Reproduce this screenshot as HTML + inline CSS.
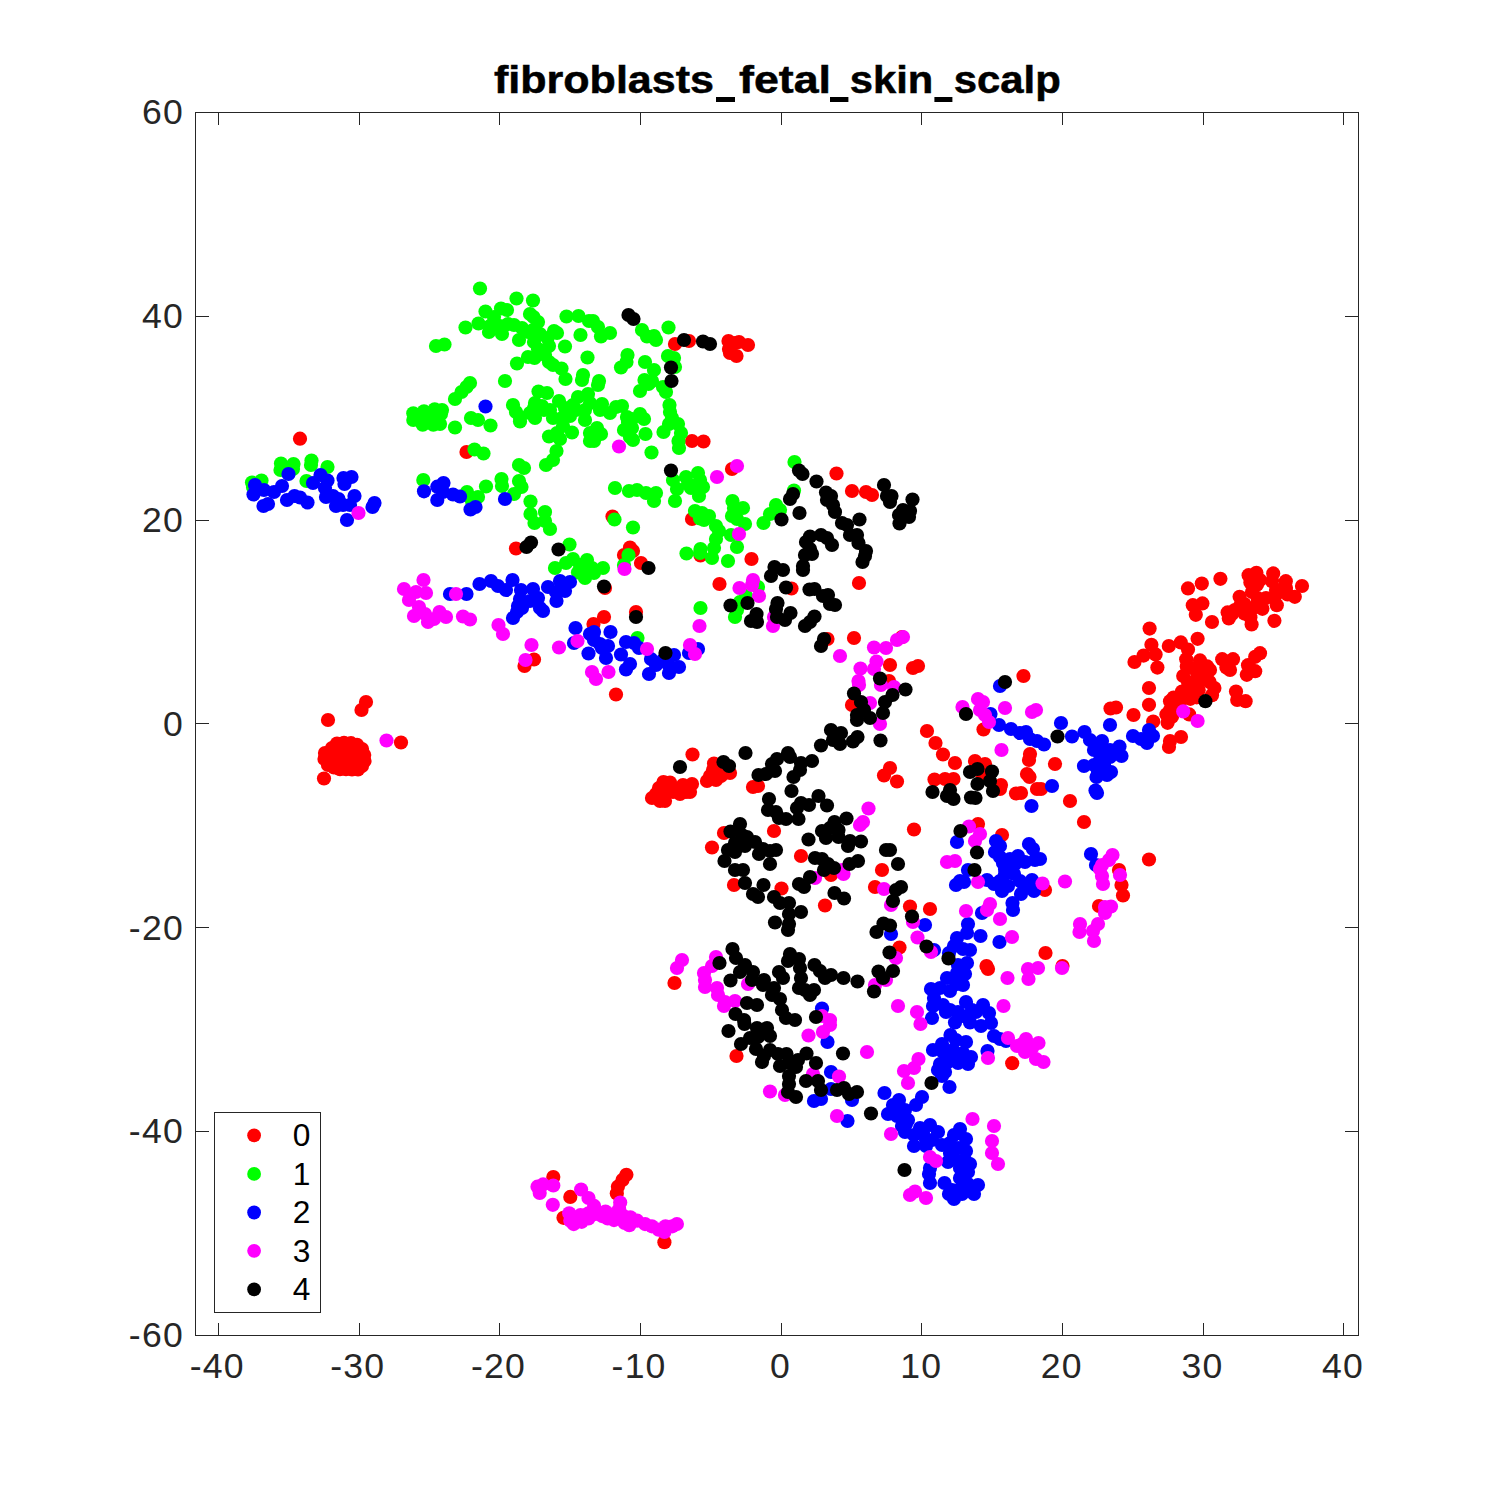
<!DOCTYPE html>
<html><head><meta charset="utf-8"><title>fibroblasts_fetal_skin_scalp</title>
<style>
html,body{margin:0;padding:0;background:#fff;}
body{width:1500px;height:1500px;overflow:hidden;}
svg{display:block;}
text{font-family:"Liberation Sans",sans-serif;}
.tk{font-size:35.6px;fill:#262626;letter-spacing:1.2px;}
.lg{font-size:31.7px;fill:#000;}
.tt{font-size:38px;font-weight:bold;fill:#000;stroke:#000;stroke-width:0.5px;}
</style></head><body>
<svg width="1500" height="1500" viewBox="0 0 1500 1500">
<rect width="1500" height="1500" fill="#fff"/>
<rect x="195.5" y="112.5" width="1163.0" height="1223.0" fill="none" stroke="#262626" stroke-width="1" shape-rendering="crispEdges"/>
<path d="M218.5 1335.5V1323.0 M218.5 112.5V125.0 M359.5 1335.5V1323.0 M359.5 112.5V125.0 M499.5 1335.5V1323.0 M499.5 112.5V125.0 M640.5 1335.5V1323.0 M640.5 112.5V125.0 M781.5 1335.5V1323.0 M781.5 112.5V125.0 M921.5 1335.5V1323.0 M921.5 112.5V125.0 M1062.5 1335.5V1323.0 M1062.5 112.5V125.0 M1203.5 1335.5V1323.0 M1203.5 112.5V125.0 M1343.5 1335.5V1323.0 M1343.5 112.5V125.0 M195.5 1335.5H209.0 M1358.5 1335.5H1345.0 M195.5 1131.5H209.0 M1358.5 1131.5H1345.0 M195.5 927.5H209.0 M1358.5 927.5H1345.0 M195.5 723.5H209.0 M1358.5 723.5H1345.0 M195.5 520.5H209.0 M1358.5 520.5H1345.0 M195.5 316.5H209.0 M1358.5 316.5H1345.0 M195.5 112.5H209.0 M1358.5 112.5H1345.0" stroke="#262626" stroke-width="1" fill="none" shape-rendering="crispEdges"/>
<g fill="#ff0000"><circle cx="300.0" cy="438.7" r="7.1"/><circle cx="675.0" cy="344.0" r="7.1"/><circle cx="689.0" cy="341.0" r="7.1"/><circle cx="728.5" cy="341.0" r="7.1"/><circle cx="735.0" cy="343.0" r="7.1"/><circle cx="729.0" cy="349.0" r="7.1"/><circle cx="730.0" cy="353.0" r="7.1"/><circle cx="736.5" cy="356.0" r="7.1"/><circle cx="739.0" cy="342.0" r="7.1"/><circle cx="748.0" cy="345.0" r="7.1"/><circle cx="466.5" cy="452.0" r="7.1"/><circle cx="516.0" cy="548.5" r="7.1"/><circle cx="692.0" cy="441.0" r="7.1"/><circle cx="703.5" cy="441.5" r="7.1"/><circle cx="732.0" cy="469.0" r="7.1"/><circle cx="612.5" cy="516.5" r="7.1"/><circle cx="692.0" cy="519.0" r="7.1"/><circle cx="630.0" cy="547.5" r="7.1"/><circle cx="633.0" cy="551.0" r="7.1"/><circle cx="624.0" cy="555.0" r="7.1"/><circle cx="641.0" cy="563.0" r="7.1"/><circle cx="700.5" cy="555.5" r="7.1"/><circle cx="836.5" cy="473.5" r="7.1"/><circle cx="852.0" cy="491.0" r="7.1"/><circle cx="866.0" cy="492.0" r="7.1"/><circle cx="872.0" cy="495.0" r="7.1"/><circle cx="751.5" cy="559.0" r="7.1"/><circle cx="534.0" cy="659.5" r="7.1"/><circle cx="524.5" cy="666.0" r="7.1"/><circle cx="605.0" cy="588.0" r="7.1"/><circle cx="636.0" cy="612.0" r="7.1"/><circle cx="604.0" cy="617.0" r="7.1"/><circle cx="593.5" cy="624.0" r="7.1"/><circle cx="616.0" cy="694.5" r="7.1"/><circle cx="719.5" cy="584.0" r="7.1"/><circle cx="791.5" cy="588.5" r="7.1"/><circle cx="827.5" cy="639.0" r="7.1"/><circle cx="859.0" cy="583.0" r="7.1"/><circle cx="854.0" cy="638.0" r="7.1"/><circle cx="902.0" cy="637.0" r="7.1"/><circle cx="890.0" cy="665.0" r="7.1"/><circle cx="913.0" cy="668.0" r="7.1"/><circle cx="918.0" cy="666.0" r="7.1"/><circle cx="889.0" cy="681.0" r="7.1"/><circle cx="852.0" cy="705.0" r="7.1"/><circle cx="1023.5" cy="676.0" r="7.1"/><circle cx="1134.5" cy="662.0" r="7.1"/><circle cx="1110.5" cy="708.5" r="7.1"/><circle cx="1116.0" cy="707.5" r="7.1"/><circle cx="1133.5" cy="715.0" r="7.1"/><circle cx="1220.4" cy="578.8" r="7.1"/><circle cx="1188.0" cy="588.4" r="7.1"/><circle cx="1201.8" cy="583.6" r="7.1"/><circle cx="1192.8" cy="605.2" r="7.1"/><circle cx="1202.4" cy="603.4" r="7.1"/><circle cx="1195.8" cy="614.8" r="7.1"/><circle cx="1212.0" cy="622.0" r="7.1"/><circle cx="1149.6" cy="628.6" r="7.1"/><circle cx="1197.6" cy="638.8" r="7.1"/><circle cx="1151.4" cy="644.8" r="7.1"/><circle cx="1168.8" cy="646.0" r="7.1"/><circle cx="1180.8" cy="642.4" r="7.1"/><circle cx="1155.6" cy="654.4" r="7.1"/><circle cx="1143.6" cy="655.6" r="7.1"/><circle cx="1188.0" cy="649.6" r="7.1"/><circle cx="1186.2" cy="659.2" r="7.1"/><circle cx="1157.4" cy="667.6" r="7.1"/><circle cx="1186.8" cy="666.4" r="7.1"/><circle cx="1183.2" cy="676.0" r="7.1"/><circle cx="1200.0" cy="660.4" r="7.1"/><circle cx="1207.2" cy="666.4" r="7.1"/><circle cx="1197.6" cy="674.8" r="7.1"/><circle cx="1206.6" cy="676.0" r="7.1"/><circle cx="1209.6" cy="682.0" r="7.1"/><circle cx="1214.4" cy="688.0" r="7.1"/><circle cx="1212.0" cy="695.2" r="7.1"/><circle cx="1188.0" cy="682.0" r="7.1"/><circle cx="1191.6" cy="690.4" r="7.1"/><circle cx="1182.0" cy="691.6" r="7.1"/><circle cx="1173.6" cy="697.6" r="7.1"/><circle cx="1170.0" cy="701.2" r="7.1"/><circle cx="1190.4" cy="698.8" r="7.1"/><circle cx="1149.0" cy="688.0" r="7.1"/><circle cx="1149.0" cy="704.8" r="7.1"/><circle cx="1166.4" cy="714.4" r="7.1"/><circle cx="1167.6" cy="722.8" r="7.1"/><circle cx="1153.2" cy="721.6" r="7.1"/><circle cx="1189.2" cy="714.4" r="7.1"/><circle cx="1222.2" cy="659.2" r="7.1"/><circle cx="1233.0" cy="659.2" r="7.1"/><circle cx="1226.4" cy="667.6" r="7.1"/><circle cx="1230.0" cy="670.0" r="7.1"/><circle cx="1260.0" cy="653.2" r="7.1"/><circle cx="1255.2" cy="656.8" r="7.1"/><circle cx="1248.0" cy="665.2" r="7.1"/><circle cx="1255.2" cy="671.2" r="7.1"/><circle cx="1246.8" cy="674.8" r="7.1"/><circle cx="1236.0" cy="691.6" r="7.1"/><circle cx="1237.2" cy="700.0" r="7.1"/><circle cx="1245.6" cy="701.2" r="7.1"/><circle cx="1274.4" cy="620.8" r="7.1"/><circle cx="1251.6" cy="624.4" r="7.1"/><circle cx="1250.4" cy="617.2" r="7.1"/><circle cx="1227.6" cy="612.4" r="7.1"/><circle cx="1228.8" cy="618.4" r="7.1"/><circle cx="1234.8" cy="610.0" r="7.1"/><circle cx="1239.6" cy="596.8" r="7.1"/><circle cx="1244.4" cy="604.0" r="7.1"/><circle cx="1250.4" cy="582.4" r="7.1"/><circle cx="1248.6" cy="575.2" r="7.1"/><circle cx="1256.4" cy="572.8" r="7.1"/><circle cx="1257.0" cy="584.8" r="7.1"/><circle cx="1273.2" cy="573.4" r="7.1"/><circle cx="1272.0" cy="581.2" r="7.1"/><circle cx="1285.8" cy="581.2" r="7.1"/><circle cx="1281.6" cy="589.6" r="7.1"/><circle cx="1302.0" cy="586.0" r="7.1"/><circle cx="1294.8" cy="596.8" r="7.1"/><circle cx="1287.6" cy="594.4" r="7.1"/><circle cx="1275.6" cy="595.6" r="7.1"/><circle cx="1266.0" cy="598.0" r="7.1"/><circle cx="1257.6" cy="598.0" r="7.1"/><circle cx="1254.0" cy="607.6" r="7.1"/><circle cx="1262.4" cy="608.8" r="7.1"/><circle cx="1276.8" cy="605.2" r="7.1"/><circle cx="1244.4" cy="613.6" r="7.1"/><circle cx="328.0" cy="720.0" r="7.1"/><circle cx="366.0" cy="702.0" r="7.1"/><circle cx="361.5" cy="710.0" r="7.1"/><circle cx="401.0" cy="742.5" r="7.1"/><circle cx="324.0" cy="778.5" r="7.1"/><circle cx="325.0" cy="753.0" r="7.1"/><circle cx="324.5" cy="759.0" r="7.1"/><circle cx="328.0" cy="765.0" r="7.1"/><circle cx="332.0" cy="748.0" r="7.1"/><circle cx="337.0" cy="743.5" r="7.1"/><circle cx="344.0" cy="742.8" r="7.1"/><circle cx="351.0" cy="743.2" r="7.1"/><circle cx="357.0" cy="744.8" r="7.1"/><circle cx="362.0" cy="749.0" r="7.1"/><circle cx="364.2" cy="755.0" r="7.1"/><circle cx="364.5" cy="761.0" r="7.1"/><circle cx="362.0" cy="766.0" r="7.1"/><circle cx="358.0" cy="769.5" r="7.1"/><circle cx="352.0" cy="769.5" r="7.1"/><circle cx="346.0" cy="769.2" r="7.1"/><circle cx="340.0" cy="769.2" r="7.1"/><circle cx="334.0" cy="767.5" r="7.1"/><circle cx="330.0" cy="760.0" r="7.1"/><circle cx="335.0" cy="755.0" r="7.1"/><circle cx="342.0" cy="752.0" r="7.1"/><circle cx="349.0" cy="752.0" r="7.1"/><circle cx="356.0" cy="755.0" r="7.1"/><circle cx="350.0" cy="760.0" r="7.1"/><circle cx="343.0" cy="762.0" r="7.1"/><circle cx="337.0" cy="762.0" r="7.1"/><circle cx="355.0" cy="763.0" r="7.1"/><circle cx="692.5" cy="754.5" r="7.1"/><circle cx="712.0" cy="847.5" r="7.1"/><circle cx="724.0" cy="833.0" r="7.1"/><circle cx="652.0" cy="798.0" r="7.1"/><circle cx="656.0" cy="794.0" r="7.1"/><circle cx="660.0" cy="801.0" r="7.1"/><circle cx="665.0" cy="801.0" r="7.1"/><circle cx="659.0" cy="788.0" r="7.1"/><circle cx="663.5" cy="782.0" r="7.1"/><circle cx="670.0" cy="782.5" r="7.1"/><circle cx="668.0" cy="790.0" r="7.1"/><circle cx="673.0" cy="792.0" r="7.1"/><circle cx="678.0" cy="790.0" r="7.1"/><circle cx="683.0" cy="785.0" r="7.1"/><circle cx="686.0" cy="792.0" r="7.1"/><circle cx="690.0" cy="792.0" r="7.1"/><circle cx="692.0" cy="784.0" r="7.1"/><circle cx="680.0" cy="794.0" r="7.1"/><circle cx="714.0" cy="763.5" r="7.1"/><circle cx="713.0" cy="770.0" r="7.1"/><circle cx="707.0" cy="781.0" r="7.1"/><circle cx="710.0" cy="776.0" r="7.1"/><circle cx="716.0" cy="780.0" r="7.1"/><circle cx="721.0" cy="776.0" r="7.1"/><circle cx="722.0" cy="770.0" r="7.1"/><circle cx="730.0" cy="773.0" r="7.1"/><circle cx="717.0" cy="772.0" r="7.1"/><circle cx="753.0" cy="787.0" r="7.1"/><circle cx="758.0" cy="786.0" r="7.1"/><circle cx="774.0" cy="831.0" r="7.1"/><circle cx="801.0" cy="856.0" r="7.1"/><circle cx="884.0" cy="775.5" r="7.1"/><circle cx="890.0" cy="768.0" r="7.1"/><circle cx="882.0" cy="870.0" r="7.1"/><circle cx="927.0" cy="731.0" r="7.1"/><circle cx="935.5" cy="743.0" r="7.1"/><circle cx="943.0" cy="754.5" r="7.1"/><circle cx="955.0" cy="763.0" r="7.1"/><circle cx="975.0" cy="761.0" r="7.1"/><circle cx="985.0" cy="764.0" r="7.1"/><circle cx="982.5" cy="776.0" r="7.1"/><circle cx="983.5" cy="729.5" r="7.1"/><circle cx="934.5" cy="779.5" r="7.1"/><circle cx="945.0" cy="779.0" r="7.1"/><circle cx="953.5" cy="779.0" r="7.1"/><circle cx="897.0" cy="781.5" r="7.1"/><circle cx="1001.0" cy="785.0" r="7.1"/><circle cx="1000.0" cy="789.0" r="7.1"/><circle cx="1030.0" cy="754.0" r="7.1"/><circle cx="1029.0" cy="760.0" r="7.1"/><circle cx="1027.0" cy="774.0" r="7.1"/><circle cx="1029.5" cy="777.0" r="7.1"/><circle cx="1016.0" cy="793.5" r="7.1"/><circle cx="1021.0" cy="793.0" r="7.1"/><circle cx="1037.0" cy="789.0" r="7.1"/><circle cx="914.0" cy="829.5" r="7.1"/><circle cx="978.0" cy="824.0" r="7.1"/><circle cx="1002.0" cy="835.0" r="7.1"/><circle cx="1055.0" cy="764.0" r="7.1"/><circle cx="1041.0" cy="789.0" r="7.1"/><circle cx="1070.0" cy="801.0" r="7.1"/><circle cx="1084.0" cy="822.0" r="7.1"/><circle cx="1149.0" cy="859.5" r="7.1"/><circle cx="1170.0" cy="741.0" r="7.1"/><circle cx="1169.0" cy="747.0" r="7.1"/><circle cx="1181.0" cy="737.0" r="7.1"/><circle cx="1119.0" cy="870.0" r="7.1"/><circle cx="734.0" cy="885.0" r="7.1"/><circle cx="781.5" cy="888.5" r="7.1"/><circle cx="674.5" cy="983.0" r="7.1"/><circle cx="831.0" cy="875.0" r="7.1"/><circle cx="875.0" cy="887.0" r="7.1"/><circle cx="825.0" cy="905.5" r="7.1"/><circle cx="910.0" cy="906.5" r="7.1"/><circle cx="930.0" cy="909.0" r="7.1"/><circle cx="899.5" cy="947.5" r="7.1"/><circle cx="1045.0" cy="890.0" r="7.1"/><circle cx="1099.0" cy="906.0" r="7.1"/><circle cx="1045.5" cy="953.0" r="7.1"/><circle cx="986.5" cy="966.0" r="7.1"/><circle cx="988.0" cy="969.0" r="7.1"/><circle cx="1062.5" cy="966.0" r="7.1"/><circle cx="1121.5" cy="885.0" r="7.1"/><circle cx="1123.0" cy="895.5" r="7.1"/><circle cx="736.5" cy="1056.0" r="7.1"/><circle cx="1012.2" cy="1063.2" r="7.1"/><circle cx="553.3" cy="1177.0" r="7.1"/><circle cx="570.3" cy="1196.9" r="7.1"/><circle cx="626.4" cy="1174.8" r="7.1"/><circle cx="622.5" cy="1179.9" r="7.1"/><circle cx="617.9" cy="1186.7" r="7.1"/><circle cx="616.8" cy="1193.5" r="7.1"/><circle cx="563.5" cy="1217.8" r="7.1"/><circle cx="664.4" cy="1242.2" r="7.1"/><circle cx="1198.7" cy="669.3" r="7.1"/><circle cx="1198.7" cy="690.0" r="7.1"/><circle cx="1196.7" cy="697.3" r="7.1"/><circle cx="1180.0" cy="702.0" r="7.1"/><circle cx="1174.7" cy="707.3" r="7.1"/><circle cx="1172.0" cy="716.7" r="7.1"/><circle cx="1194.7" cy="682.7" r="7.1"/><circle cx="1260.0" cy="580.0" r="7.1"/><circle cx="1252.0" cy="592.0" r="7.1"/><circle cx="1240.0" cy="606.0" r="7.1"/><circle cx="1276.0" cy="590.0" r="7.1"/><circle cx="1286.0" cy="588.0" r="7.1"/><circle cx="1232.0" cy="614.0" r="7.1"/><circle cx="1192.0" cy="668.0" r="7.1"/><circle cx="1180.0" cy="696.0" r="7.1"/><circle cx="1200.0" cy="680.0" r="7.1"/><circle cx="1170.0" cy="710.0" r="7.1"/><circle cx="1210.0" cy="670.0" r="7.1"/></g>
<g fill="#00ff00"><circle cx="423.3" cy="480.0" r="7.1"/><circle cx="413.3" cy="413.3" r="7.1"/><circle cx="424.0" cy="411.3" r="7.1"/><circle cx="434.7" cy="409.3" r="7.1"/><circle cx="413.3" cy="420.0" r="7.1"/><circle cx="422.7" cy="424.7" r="7.1"/><circle cx="433.3" cy="424.7" r="7.1"/><circle cx="281.0" cy="463.5" r="7.1"/><circle cx="293.5" cy="464.0" r="7.1"/><circle cx="280.5" cy="470.0" r="7.1"/><circle cx="293.0" cy="469.0" r="7.1"/><circle cx="311.5" cy="460.5" r="7.1"/><circle cx="311.0" cy="465.0" r="7.1"/><circle cx="327.5" cy="467.0" r="7.1"/><circle cx="252.0" cy="482.5" r="7.1"/><circle cx="261.5" cy="480.5" r="7.1"/><circle cx="253.0" cy="487.0" r="7.1"/><circle cx="306.5" cy="481.0" r="7.1"/><circle cx="480.0" cy="288.5" r="7.1"/><circle cx="516.5" cy="298.5" r="7.1"/><circle cx="533.0" cy="300.5" r="7.1"/><circle cx="485.5" cy="311.5" r="7.1"/><circle cx="501.0" cy="308.5" r="7.1"/><circle cx="507.0" cy="310.0" r="7.1"/><circle cx="465.5" cy="327.5" r="7.1"/><circle cx="478.5" cy="323.5" r="7.1"/><circle cx="489.0" cy="332.0" r="7.1"/><circle cx="490.0" cy="326.0" r="7.1"/><circle cx="502.0" cy="334.0" r="7.1"/><circle cx="500.0" cy="326.0" r="7.1"/><circle cx="508.0" cy="324.0" r="7.1"/><circle cx="514.0" cy="325.0" r="7.1"/><circle cx="519.0" cy="340.0" r="7.1"/><circle cx="522.0" cy="328.0" r="7.1"/><circle cx="530.0" cy="314.0" r="7.1"/><circle cx="533.5" cy="317.0" r="7.1"/><circle cx="538.0" cy="322.0" r="7.1"/><circle cx="533.0" cy="330.0" r="7.1"/><circle cx="534.0" cy="342.0" r="7.1"/><circle cx="554.0" cy="331.0" r="7.1"/><circle cx="557.0" cy="333.0" r="7.1"/><circle cx="547.5" cy="338.0" r="7.1"/><circle cx="549.0" cy="346.0" r="7.1"/><circle cx="566.5" cy="316.5" r="7.1"/><circle cx="578.5" cy="316.0" r="7.1"/><circle cx="589.0" cy="321.0" r="7.1"/><circle cx="580.5" cy="335.0" r="7.1"/><circle cx="565.0" cy="346.5" r="7.1"/><circle cx="587.5" cy="357.5" r="7.1"/><circle cx="444.5" cy="344.5" r="7.1"/><circle cx="436.0" cy="346.0" r="7.1"/><circle cx="517.0" cy="363.5" r="7.1"/><circle cx="528.0" cy="357.0" r="7.1"/><circle cx="534.5" cy="358.0" r="7.1"/><circle cx="545.0" cy="355.0" r="7.1"/><circle cx="549.0" cy="362.0" r="7.1"/><circle cx="553.0" cy="365.0" r="7.1"/><circle cx="561.5" cy="368.5" r="7.1"/><circle cx="565.5" cy="379.0" r="7.1"/><circle cx="583.0" cy="375.0" r="7.1"/><circle cx="582.0" cy="380.0" r="7.1"/><circle cx="505.0" cy="381.0" r="7.1"/><circle cx="470.0" cy="383.0" r="7.1"/><circle cx="466.5" cy="387.0" r="7.1"/><circle cx="461.5" cy="392.0" r="7.1"/><circle cx="455.0" cy="399.0" r="7.1"/><circle cx="442.0" cy="410.0" r="7.1"/><circle cx="471.0" cy="418.0" r="7.1"/><circle cx="478.0" cy="420.0" r="7.1"/><circle cx="513.0" cy="405.0" r="7.1"/><circle cx="516.0" cy="412.0" r="7.1"/><circle cx="520.0" cy="417.0" r="7.1"/><circle cx="538.5" cy="391.5" r="7.1"/><circle cx="547.0" cy="393.0" r="7.1"/><circle cx="535.0" cy="403.0" r="7.1"/><circle cx="542.0" cy="406.0" r="7.1"/><circle cx="550.0" cy="410.0" r="7.1"/><circle cx="559.0" cy="401.0" r="7.1"/><circle cx="565.0" cy="408.0" r="7.1"/><circle cx="578.0" cy="397.0" r="7.1"/><circle cx="573.0" cy="405.0" r="7.1"/><circle cx="588.0" cy="394.0" r="7.1"/><circle cx="585.0" cy="410.0" r="7.1"/><circle cx="530.0" cy="413.0" r="7.1"/><circle cx="535.0" cy="418.0" r="7.1"/><circle cx="553.0" cy="418.0" r="7.1"/><circle cx="570.0" cy="416.0" r="7.1"/><circle cx="593.0" cy="321.0" r="7.1"/><circle cx="598.0" cy="327.0" r="7.1"/><circle cx="610.0" cy="333.0" r="7.1"/><circle cx="601.0" cy="336.5" r="7.1"/><circle cx="642.0" cy="330.0" r="7.1"/><circle cx="647.0" cy="336.5" r="7.1"/><circle cx="654.0" cy="336.0" r="7.1"/><circle cx="656.0" cy="340.0" r="7.1"/><circle cx="668.5" cy="327.5" r="7.1"/><circle cx="668.0" cy="356.0" r="7.1"/><circle cx="674.0" cy="358.0" r="7.1"/><circle cx="675.0" cy="367.0" r="7.1"/><circle cx="627.5" cy="355.0" r="7.1"/><circle cx="626.5" cy="362.0" r="7.1"/><circle cx="621.0" cy="367.5" r="7.1"/><circle cx="645.0" cy="362.0" r="7.1"/><circle cx="654.0" cy="370.0" r="7.1"/><circle cx="644.5" cy="380.0" r="7.1"/><circle cx="652.0" cy="381.0" r="7.1"/><circle cx="648.5" cy="384.0" r="7.1"/><circle cx="640.0" cy="391.0" r="7.1"/><circle cx="599.0" cy="381.0" r="7.1"/><circle cx="598.0" cy="385.0" r="7.1"/><circle cx="602.0" cy="404.0" r="7.1"/><circle cx="600.0" cy="410.0" r="7.1"/><circle cx="616.0" cy="407.0" r="7.1"/><circle cx="622.0" cy="406.0" r="7.1"/><circle cx="610.0" cy="413.0" r="7.1"/><circle cx="627.0" cy="417.0" r="7.1"/><circle cx="640.0" cy="414.0" r="7.1"/><circle cx="644.0" cy="419.0" r="7.1"/><circle cx="663.0" cy="387.0" r="7.1"/><circle cx="666.0" cy="392.0" r="7.1"/><circle cx="669.5" cy="405.0" r="7.1"/><circle cx="670.0" cy="412.0" r="7.1"/><circle cx="672.0" cy="418.0" r="7.1"/><circle cx="590.0" cy="403.0" r="7.1"/><circle cx="632.0" cy="419.0" r="7.1"/><circle cx="440.0" cy="424.0" r="7.1"/><circle cx="455.0" cy="427.5" r="7.1"/><circle cx="490.5" cy="425.5" r="7.1"/><circle cx="520.0" cy="421.5" r="7.1"/><circle cx="549.0" cy="436.5" r="7.1"/><circle cx="557.0" cy="433.0" r="7.1"/><circle cx="563.0" cy="426.0" r="7.1"/><circle cx="572.0" cy="432.5" r="7.1"/><circle cx="560.0" cy="439.0" r="7.1"/><circle cx="590.0" cy="433.0" r="7.1"/><circle cx="590.0" cy="441.0" r="7.1"/><circle cx="585.0" cy="420.0" r="7.1"/><circle cx="556.5" cy="451.0" r="7.1"/><circle cx="553.0" cy="460.0" r="7.1"/><circle cx="546.0" cy="465.0" r="7.1"/><circle cx="474.5" cy="449.5" r="7.1"/><circle cx="483.5" cy="453.5" r="7.1"/><circle cx="519.0" cy="465.0" r="7.1"/><circle cx="524.0" cy="468.0" r="7.1"/><circle cx="501.5" cy="479.0" r="7.1"/><circle cx="502.0" cy="486.0" r="7.1"/><circle cx="519.0" cy="481.0" r="7.1"/><circle cx="521.5" cy="487.0" r="7.1"/><circle cx="514.0" cy="494.0" r="7.1"/><circle cx="486.0" cy="486.5" r="7.1"/><circle cx="467.0" cy="492.0" r="7.1"/><circle cx="478.0" cy="497.0" r="7.1"/><circle cx="472.0" cy="501.0" r="7.1"/><circle cx="530.5" cy="501.5" r="7.1"/><circle cx="530.5" cy="514.0" r="7.1"/><circle cx="534.5" cy="523.0" r="7.1"/><circle cx="545.0" cy="512.0" r="7.1"/><circle cx="545.0" cy="521.0" r="7.1"/><circle cx="550.0" cy="529.0" r="7.1"/><circle cx="569.5" cy="544.5" r="7.1"/><circle cx="573.0" cy="559.0" r="7.1"/><circle cx="566.0" cy="563.0" r="7.1"/><circle cx="555.0" cy="568.0" r="7.1"/><circle cx="580.0" cy="565.0" r="7.1"/><circle cx="587.0" cy="560.0" r="7.1"/><circle cx="588.0" cy="568.0" r="7.1"/><circle cx="597.0" cy="428.0" r="7.1"/><circle cx="601.0" cy="434.0" r="7.1"/><circle cx="594.0" cy="441.0" r="7.1"/><circle cx="624.0" cy="430.0" r="7.1"/><circle cx="632.0" cy="428.0" r="7.1"/><circle cx="630.0" cy="437.0" r="7.1"/><circle cx="633.0" cy="440.0" r="7.1"/><circle cx="645.5" cy="434.0" r="7.1"/><circle cx="628.0" cy="422.0" r="7.1"/><circle cx="663.5" cy="432.0" r="7.1"/><circle cx="669.0" cy="424.0" r="7.1"/><circle cx="678.0" cy="424.0" r="7.1"/><circle cx="681.0" cy="433.0" r="7.1"/><circle cx="678.5" cy="441.0" r="7.1"/><circle cx="679.0" cy="448.0" r="7.1"/><circle cx="651.5" cy="452.5" r="7.1"/><circle cx="615.0" cy="488.0" r="7.1"/><circle cx="629.0" cy="491.0" r="7.1"/><circle cx="637.0" cy="490.0" r="7.1"/><circle cx="646.0" cy="493.0" r="7.1"/><circle cx="656.0" cy="493.0" r="7.1"/><circle cx="654.0" cy="501.0" r="7.1"/><circle cx="675.0" cy="501.0" r="7.1"/><circle cx="673.0" cy="480.0" r="7.1"/><circle cx="677.0" cy="489.0" r="7.1"/><circle cx="686.0" cy="477.0" r="7.1"/><circle cx="698.0" cy="473.0" r="7.1"/><circle cx="700.0" cy="480.0" r="7.1"/><circle cx="691.0" cy="488.0" r="7.1"/><circle cx="703.0" cy="487.0" r="7.1"/><circle cx="699.0" cy="496.0" r="7.1"/><circle cx="695.0" cy="511.0" r="7.1"/><circle cx="702.0" cy="513.0" r="7.1"/><circle cx="700.0" cy="518.5" r="7.1"/><circle cx="709.0" cy="516.0" r="7.1"/><circle cx="716.0" cy="526.0" r="7.1"/><circle cx="719.0" cy="531.0" r="7.1"/><circle cx="716.0" cy="539.0" r="7.1"/><circle cx="714.0" cy="548.0" r="7.1"/><circle cx="712.0" cy="558.0" r="7.1"/><circle cx="732.5" cy="501.0" r="7.1"/><circle cx="734.0" cy="508.0" r="7.1"/><circle cx="732.0" cy="516.0" r="7.1"/><circle cx="737.0" cy="519.0" r="7.1"/><circle cx="731.0" cy="535.0" r="7.1"/><circle cx="737.0" cy="547.0" r="7.1"/><circle cx="728.0" cy="561.0" r="7.1"/><circle cx="700.5" cy="549.0" r="7.1"/><circle cx="700.0" cy="553.0" r="7.1"/><circle cx="686.5" cy="553.5" r="7.1"/><circle cx="614.5" cy="519.5" r="7.1"/><circle cx="633.0" cy="527.5" r="7.1"/><circle cx="628.5" cy="555.0" r="7.1"/><circle cx="624.0" cy="565.0" r="7.1"/><circle cx="603.0" cy="568.0" r="7.1"/><circle cx="592.0" cy="568.0" r="7.1"/><circle cx="794.5" cy="462.0" r="7.1"/><circle cx="794.0" cy="490.5" r="7.1"/><circle cx="776.0" cy="505.0" r="7.1"/><circle cx="780.0" cy="510.0" r="7.1"/><circle cx="770.0" cy="514.0" r="7.1"/><circle cx="763.5" cy="523.0" r="7.1"/><circle cx="743.0" cy="508.0" r="7.1"/><circle cx="745.0" cy="524.0" r="7.1"/><circle cx="585.0" cy="578.0" r="7.1"/><circle cx="578.0" cy="572.5" r="7.1"/><circle cx="594.0" cy="573.0" r="7.1"/><circle cx="637.5" cy="638.0" r="7.1"/><circle cx="700.5" cy="608.0" r="7.1"/><circle cx="758.0" cy="587.0" r="7.1"/><circle cx="746.0" cy="596.0" r="7.1"/><circle cx="740.0" cy="602.0" r="7.1"/><circle cx="737.0" cy="610.0" r="7.1"/><circle cx="735.0" cy="617.0" r="7.1"/><circle cx="441.0" cy="414.0" r="7.1"/><circle cx="430.0" cy="417.0" r="7.1"/><circle cx="420.0" cy="417.0" r="7.1"/><circle cx="494.0" cy="317.0" r="7.1"/><circle cx="528.0" cy="332.0" r="7.1"/><circle cx="540.0" cy="334.0" r="7.1"/><circle cx="538.0" cy="349.0" r="7.1"/><circle cx="534.0" cy="408.0" r="7.1"/><circle cx="544.0" cy="410.0" r="7.1"/><circle cx="562.0" cy="418.0" r="7.1"/><circle cx="576.0" cy="410.0" r="7.1"/><circle cx="688.0" cy="484.0" r="7.1"/><circle cx="704.0" cy="520.0" r="7.1"/></g>
<g fill="#0000ff"><circle cx="424.0" cy="491.3" r="7.1"/><circle cx="437.3" cy="486.7" r="7.1"/><circle cx="437.3" cy="500.0" r="7.1"/><circle cx="288.5" cy="474.0" r="7.1"/><circle cx="255.0" cy="485.0" r="7.1"/><circle cx="253.5" cy="494.5" r="7.1"/><circle cx="264.0" cy="490.0" r="7.1"/><circle cx="274.0" cy="492.0" r="7.1"/><circle cx="282.0" cy="486.0" r="7.1"/><circle cx="263.5" cy="506.0" r="7.1"/><circle cx="268.0" cy="504.0" r="7.1"/><circle cx="287.0" cy="500.0" r="7.1"/><circle cx="294.5" cy="496.0" r="7.1"/><circle cx="300.0" cy="497.5" r="7.1"/><circle cx="307.5" cy="502.5" r="7.1"/><circle cx="313.0" cy="483.0" r="7.1"/><circle cx="320.5" cy="475.0" r="7.1"/><circle cx="327.5" cy="480.5" r="7.1"/><circle cx="325.0" cy="488.0" r="7.1"/><circle cx="326.0" cy="497.0" r="7.1"/><circle cx="333.0" cy="496.0" r="7.1"/><circle cx="338.5" cy="499.0" r="7.1"/><circle cx="336.0" cy="506.0" r="7.1"/><circle cx="343.0" cy="505.0" r="7.1"/><circle cx="343.5" cy="478.0" r="7.1"/><circle cx="351.5" cy="477.0" r="7.1"/><circle cx="344.5" cy="484.0" r="7.1"/><circle cx="354.5" cy="496.0" r="7.1"/><circle cx="350.0" cy="505.0" r="7.1"/><circle cx="347.0" cy="520.0" r="7.1"/><circle cx="374.5" cy="503.0" r="7.1"/><circle cx="372.5" cy="507.0" r="7.1"/><circle cx="485.5" cy="406.5" r="7.1"/><circle cx="443.5" cy="483.0" r="7.1"/><circle cx="443.0" cy="492.0" r="7.1"/><circle cx="453.0" cy="494.5" r="7.1"/><circle cx="460.0" cy="496.5" r="7.1"/><circle cx="470.5" cy="509.5" r="7.1"/><circle cx="475.5" cy="507.0" r="7.1"/><circle cx="505.0" cy="499.0" r="7.1"/><circle cx="450.0" cy="594.0" r="7.1"/><circle cx="466.5" cy="594.0" r="7.1"/><circle cx="479.5" cy="584.0" r="7.1"/><circle cx="491.0" cy="581.0" r="7.1"/><circle cx="498.0" cy="586.0" r="7.1"/><circle cx="506.0" cy="590.0" r="7.1"/><circle cx="512.5" cy="580.0" r="7.1"/><circle cx="521.0" cy="590.0" r="7.1"/><circle cx="520.0" cy="599.0" r="7.1"/><circle cx="518.0" cy="606.0" r="7.1"/><circle cx="517.0" cy="612.0" r="7.1"/><circle cx="513.0" cy="618.0" r="7.1"/><circle cx="533.0" cy="589.0" r="7.1"/><circle cx="530.0" cy="601.0" r="7.1"/><circle cx="538.0" cy="598.0" r="7.1"/><circle cx="540.0" cy="608.0" r="7.1"/><circle cx="548.0" cy="587.0" r="7.1"/><circle cx="560.0" cy="581.0" r="7.1"/><circle cx="570.0" cy="582.0" r="7.1"/><circle cx="556.0" cy="592.0" r="7.1"/><circle cx="565.0" cy="591.0" r="7.1"/><circle cx="556.5" cy="601.0" r="7.1"/><circle cx="543.0" cy="611.0" r="7.1"/><circle cx="575.5" cy="628.0" r="7.1"/><circle cx="574.0" cy="643.0" r="7.1"/><circle cx="590.0" cy="634.0" r="7.1"/><circle cx="594.0" cy="632.0" r="7.1"/><circle cx="594.0" cy="640.0" r="7.1"/><circle cx="600.0" cy="644.0" r="7.1"/><circle cx="608.0" cy="646.0" r="7.1"/><circle cx="610.5" cy="632.0" r="7.1"/><circle cx="588.5" cy="653.5" r="7.1"/><circle cx="606.0" cy="658.0" r="7.1"/><circle cx="621.0" cy="654.5" r="7.1"/><circle cx="626.0" cy="642.0" r="7.1"/><circle cx="634.0" cy="643.0" r="7.1"/><circle cx="639.0" cy="648.0" r="7.1"/><circle cx="630.0" cy="664.0" r="7.1"/><circle cx="626.0" cy="669.5" r="7.1"/><circle cx="651.0" cy="659.0" r="7.1"/><circle cx="656.0" cy="665.0" r="7.1"/><circle cx="649.0" cy="674.0" r="7.1"/><circle cx="663.0" cy="660.0" r="7.1"/><circle cx="669.0" cy="673.0" r="7.1"/><circle cx="674.0" cy="655.0" r="7.1"/><circle cx="679.0" cy="667.0" r="7.1"/><circle cx="689.0" cy="653.0" r="7.1"/><circle cx="698.0" cy="649.0" r="7.1"/><circle cx="1000.0" cy="686.0" r="7.1"/><circle cx="990.5" cy="714.0" r="7.1"/><circle cx="1149.0" cy="730.0" r="7.1"/><circle cx="999.0" cy="725.0" r="7.1"/><circle cx="1011.0" cy="729.0" r="7.1"/><circle cx="1020.0" cy="733.0" r="7.1"/><circle cx="1026.0" cy="732.0" r="7.1"/><circle cx="1030.0" cy="739.0" r="7.1"/><circle cx="1037.0" cy="741.0" r="7.1"/><circle cx="1031.5" cy="806.0" r="7.1"/><circle cx="957.0" cy="842.0" r="7.1"/><circle cx="996.0" cy="841.0" r="7.1"/><circle cx="1000.0" cy="846.0" r="7.1"/><circle cx="995.0" cy="852.0" r="7.1"/><circle cx="1000.0" cy="857.0" r="7.1"/><circle cx="1003.0" cy="863.0" r="7.1"/><circle cx="1010.0" cy="859.0" r="7.1"/><circle cx="1018.0" cy="856.0" r="7.1"/><circle cx="1015.0" cy="864.0" r="7.1"/><circle cx="1029.0" cy="844.0" r="7.1"/><circle cx="1033.0" cy="849.0" r="7.1"/><circle cx="1025.0" cy="862.0" r="7.1"/><circle cx="1035.0" cy="860.0" r="7.1"/><circle cx="1005.0" cy="869.0" r="7.1"/><circle cx="968.0" cy="870.0" r="7.1"/><circle cx="1061.0" cy="723.0" r="7.1"/><circle cx="1044.0" cy="744.5" r="7.1"/><circle cx="1072.0" cy="736.5" r="7.1"/><circle cx="1084.5" cy="732.0" r="7.1"/><circle cx="1090.0" cy="740.0" r="7.1"/><circle cx="1102.0" cy="741.0" r="7.1"/><circle cx="1094.0" cy="750.0" r="7.1"/><circle cx="1104.0" cy="753.0" r="7.1"/><circle cx="1110.0" cy="757.0" r="7.1"/><circle cx="1119.5" cy="746.5" r="7.1"/><circle cx="1121.5" cy="756.0" r="7.1"/><circle cx="1084.0" cy="766.0" r="7.1"/><circle cx="1094.0" cy="765.0" r="7.1"/><circle cx="1104.0" cy="765.0" r="7.1"/><circle cx="1111.0" cy="772.0" r="7.1"/><circle cx="1107.0" cy="775.0" r="7.1"/><circle cx="1096.5" cy="777.0" r="7.1"/><circle cx="1095.5" cy="790.5" r="7.1"/><circle cx="1097.0" cy="793.0" r="7.1"/><circle cx="1110.0" cy="725.0" r="7.1"/><circle cx="1133.0" cy="736.0" r="7.1"/><circle cx="1141.0" cy="739.0" r="7.1"/><circle cx="1153.0" cy="736.0" r="7.1"/><circle cx="1147.0" cy="743.0" r="7.1"/><circle cx="1052.0" cy="786.0" r="7.1"/><circle cx="1091.0" cy="854.0" r="7.1"/><circle cx="1040.0" cy="859.0" r="7.1"/><circle cx="925.0" cy="925.0" r="7.1"/><circle cx="891.0" cy="934.0" r="7.1"/><circle cx="934.0" cy="950.0" r="7.1"/><circle cx="822.0" cy="1008.5" r="7.1"/><circle cx="956.0" cy="885.0" r="7.1"/><circle cx="960.0" cy="881.0" r="7.1"/><circle cx="957.0" cy="938.0" r="7.1"/><circle cx="954.0" cy="946.0" r="7.1"/><circle cx="949.0" cy="953.0" r="7.1"/><circle cx="958.0" cy="965.0" r="7.1"/><circle cx="957.0" cy="973.0" r="7.1"/><circle cx="947.0" cy="978.0" r="7.1"/><circle cx="931.0" cy="989.0" r="7.1"/><circle cx="940.0" cy="988.0" r="7.1"/><circle cx="950.0" cy="991.0" r="7.1"/><circle cx="934.0" cy="998.0" r="7.1"/><circle cx="933.0" cy="1006.0" r="7.1"/><circle cx="943.0" cy="1005.0" r="7.1"/><circle cx="950.0" cy="1010.0" r="7.1"/><circle cx="958.0" cy="1012.0" r="7.1"/><circle cx="932.0" cy="1018.0" r="7.1"/><circle cx="957.0" cy="984.0" r="7.1"/><circle cx="964.0" cy="882.0" r="7.1"/><circle cx="987.0" cy="880.0" r="7.1"/><circle cx="1000.0" cy="881.0" r="7.1"/><circle cx="1005.0" cy="874.0" r="7.1"/><circle cx="1002.0" cy="891.0" r="7.1"/><circle cx="1020.0" cy="881.0" r="7.1"/><circle cx="1021.0" cy="894.0" r="7.1"/><circle cx="1032.0" cy="880.0" r="7.1"/><circle cx="1034.0" cy="891.0" r="7.1"/><circle cx="1012.5" cy="903.0" r="7.1"/><circle cx="1013.0" cy="910.0" r="7.1"/><circle cx="982.0" cy="913.0" r="7.1"/><circle cx="968.0" cy="924.0" r="7.1"/><circle cx="967.0" cy="933.0" r="7.1"/><circle cx="980.5" cy="936.0" r="7.1"/><circle cx="999.5" cy="942.0" r="7.1"/><circle cx="963.0" cy="949.0" r="7.1"/><circle cx="970.0" cy="950.0" r="7.1"/><circle cx="967.0" cy="963.0" r="7.1"/><circle cx="965.0" cy="974.0" r="7.1"/><circle cx="963.0" cy="985.0" r="7.1"/><circle cx="966.0" cy="1002.0" r="7.1"/><circle cx="972.0" cy="1010.0" r="7.1"/><circle cx="983.0" cy="1005.0" r="7.1"/><circle cx="989.0" cy="1013.0" r="7.1"/><circle cx="1096.0" cy="865.0" r="7.1"/><circle cx="827.5" cy="1042.0" r="7.1"/><circle cx="831.0" cy="1072.0" r="7.1"/><circle cx="831.0" cy="1089.0" r="7.1"/><circle cx="814.0" cy="1101.0" r="7.1"/><circle cx="821.0" cy="1099.0" r="7.1"/><circle cx="852.0" cy="1100.0" r="7.1"/><circle cx="847.5" cy="1121.0" r="7.1"/><circle cx="955.0" cy="1022.5" r="7.1"/><circle cx="970.0" cy="1022.5" r="7.1"/><circle cx="981.0" cy="1026.0" r="7.1"/><circle cx="991.0" cy="1023.0" r="7.1"/><circle cx="994.0" cy="1036.0" r="7.1"/><circle cx="1000.0" cy="1039.0" r="7.1"/><circle cx="1006.0" cy="1041.0" r="7.1"/><circle cx="950.5" cy="1035.0" r="7.1"/><circle cx="956.0" cy="1040.0" r="7.1"/><circle cx="966.0" cy="1042.0" r="7.1"/><circle cx="933.0" cy="1050.0" r="7.1"/><circle cx="943.0" cy="1052.0" r="7.1"/><circle cx="953.0" cy="1050.0" r="7.1"/><circle cx="963.0" cy="1053.0" r="7.1"/><circle cx="971.0" cy="1057.0" r="7.1"/><circle cx="968.0" cy="1064.0" r="7.1"/><circle cx="958.0" cy="1063.0" r="7.1"/><circle cx="948.0" cy="1062.0" r="7.1"/><circle cx="940.0" cy="1064.0" r="7.1"/><circle cx="938.0" cy="1070.0" r="7.1"/><circle cx="945.0" cy="1072.0" r="7.1"/><circle cx="942.0" cy="1076.0" r="7.1"/><circle cx="949.5" cy="1087.0" r="7.1"/><circle cx="987.5" cy="1051.0" r="7.1"/><circle cx="884.5" cy="1093.0" r="7.1"/><circle cx="899.0" cy="1100.0" r="7.1"/><circle cx="893.0" cy="1105.0" r="7.1"/><circle cx="888.0" cy="1114.0" r="7.1"/><circle cx="897.0" cy="1116.0" r="7.1"/><circle cx="905.0" cy="1110.0" r="7.1"/><circle cx="916.0" cy="1105.0" r="7.1"/><circle cx="922.0" cy="1097.0" r="7.1"/><circle cx="908.0" cy="1120.0" r="7.1"/><circle cx="902.0" cy="1126.0" r="7.1"/><circle cx="905.0" cy="1132.0" r="7.1"/><circle cx="914.0" cy="1135.0" r="7.1"/><circle cx="914.0" cy="1146.0" r="7.1"/><circle cx="923.0" cy="1133.0" r="7.1"/><circle cx="930.0" cy="1125.0" r="7.1"/><circle cx="938.0" cy="1132.0" r="7.1"/><circle cx="932.0" cy="1140.0" r="7.1"/><circle cx="926.0" cy="1146.0" r="7.1"/><circle cx="942.0" cy="1145.0" r="7.1"/><circle cx="960.0" cy="1129.0" r="7.1"/><circle cx="954.0" cy="1135.0" r="7.1"/><circle cx="966.0" cy="1139.0" r="7.1"/><circle cx="950.0" cy="1143.0" r="7.1"/><circle cx="958.0" cy="1148.0" r="7.1"/><circle cx="966.0" cy="1151.0" r="7.1"/><circle cx="950.0" cy="1153.0" r="7.1"/><circle cx="948.0" cy="1162.0" r="7.1"/><circle cx="956.0" cy="1160.0" r="7.1"/><circle cx="965.0" cy="1160.0" r="7.1"/><circle cx="970.0" cy="1164.0" r="7.1"/><circle cx="930.0" cy="1168.0" r="7.1"/><circle cx="960.0" cy="1168.0" r="7.1"/><circle cx="929.0" cy="1174.0" r="7.1"/><circle cx="930.0" cy="1183.0" r="7.1"/><circle cx="944.5" cy="1183.0" r="7.1"/><circle cx="949.0" cy="1194.0" r="7.1"/><circle cx="954.0" cy="1199.0" r="7.1"/><circle cx="960.0" cy="1189.0" r="7.1"/><circle cx="968.0" cy="1190.0" r="7.1"/><circle cx="974.0" cy="1194.0" r="7.1"/><circle cx="978.0" cy="1185.0" r="7.1"/><circle cx="968.0" cy="1172.0" r="7.1"/><circle cx="960.0" cy="1178.0" r="7.1"/><circle cx="1100.0" cy="760.0" r="7.1"/><circle cx="1110.0" cy="750.0" r="7.1"/><circle cx="1098.0" cy="772.0" r="7.1"/><circle cx="1014.0" cy="874.0" r="7.1"/><circle cx="1008.0" cy="886.0" r="7.1"/><circle cx="1026.0" cy="886.0" r="7.1"/><circle cx="994.0" cy="884.0" r="7.1"/><circle cx="942.0" cy="1044.0" r="7.1"/><circle cx="952.0" cy="1060.0" r="7.1"/><circle cx="946.0" cy="1012.0" r="7.1"/><circle cx="962.0" cy="1016.0" r="7.1"/><circle cx="976.0" cy="1012.0" r="7.1"/><circle cx="896.0" cy="1112.0" r="7.1"/><circle cx="906.0" cy="1124.0" r="7.1"/><circle cx="926.0" cy="1140.0" r="7.1"/><circle cx="920.0" cy="1128.0" r="7.1"/><circle cx="522.0" cy="608.0" r="7.1"/><circle cx="602.0" cy="648.0" r="7.1"/><circle cx="668.0" cy="664.0" r="7.1"/><circle cx="1100.0" cy="752.0" r="7.1"/><circle cx="952.0" cy="1190.0" r="7.1"/><circle cx="962.0" cy="1194.0" r="7.1"/><circle cx="968.0" cy="1184.0" r="7.1"/><circle cx="966.0" cy="1168.0" r="7.1"/><circle cx="950.0" cy="1056.0" r="7.1"/></g>
<g fill="#ff00ff"><circle cx="358.5" cy="513.0" r="7.1"/><circle cx="619.0" cy="446.5" r="7.1"/><circle cx="717.0" cy="477.0" r="7.1"/><circle cx="737.0" cy="466.0" r="7.1"/><circle cx="739.0" cy="534.0" r="7.1"/><circle cx="624.5" cy="569.0" r="7.1"/><circle cx="423.5" cy="580.0" r="7.1"/><circle cx="404.0" cy="589.0" r="7.1"/><circle cx="416.0" cy="592.0" r="7.1"/><circle cx="426.0" cy="593.0" r="7.1"/><circle cx="409.0" cy="600.0" r="7.1"/><circle cx="419.0" cy="607.0" r="7.1"/><circle cx="414.0" cy="616.0" r="7.1"/><circle cx="425.0" cy="614.0" r="7.1"/><circle cx="428.0" cy="622.0" r="7.1"/><circle cx="434.0" cy="619.0" r="7.1"/><circle cx="439.5" cy="612.0" r="7.1"/><circle cx="446.0" cy="617.0" r="7.1"/><circle cx="456.0" cy="594.0" r="7.1"/><circle cx="463.0" cy="616.5" r="7.1"/><circle cx="470.0" cy="619.5" r="7.1"/><circle cx="498.5" cy="625.0" r="7.1"/><circle cx="503.0" cy="634.0" r="7.1"/><circle cx="531.5" cy="645.0" r="7.1"/><circle cx="525.5" cy="660.0" r="7.1"/><circle cx="559.0" cy="647.5" r="7.1"/><circle cx="577.5" cy="641.0" r="7.1"/><circle cx="592.0" cy="672.0" r="7.1"/><circle cx="596.0" cy="679.0" r="7.1"/><circle cx="608.5" cy="672.0" r="7.1"/><circle cx="647.0" cy="649.0" r="7.1"/><circle cx="690.0" cy="645.0" r="7.1"/><circle cx="739.5" cy="588.0" r="7.1"/><circle cx="753.0" cy="580.0" r="7.1"/><circle cx="752.0" cy="585.0" r="7.1"/><circle cx="759.0" cy="596.0" r="7.1"/><circle cx="699.5" cy="626.0" r="7.1"/><circle cx="695.0" cy="654.0" r="7.1"/><circle cx="774.0" cy="617.0" r="7.1"/><circle cx="773.0" cy="626.0" r="7.1"/><circle cx="840.0" cy="656.0" r="7.1"/><circle cx="897.0" cy="640.0" r="7.1"/><circle cx="903.0" cy="637.0" r="7.1"/><circle cx="874.0" cy="647.5" r="7.1"/><circle cx="886.0" cy="648.0" r="7.1"/><circle cx="876.5" cy="661.5" r="7.1"/><circle cx="860.5" cy="668.5" r="7.1"/><circle cx="874.0" cy="669.0" r="7.1"/><circle cx="858.5" cy="681.0" r="7.1"/><circle cx="859.0" cy="685.0" r="7.1"/><circle cx="881.0" cy="685.0" r="7.1"/><circle cx="894.0" cy="687.0" r="7.1"/><circle cx="870.0" cy="703.0" r="7.1"/><circle cx="962.5" cy="707.0" r="7.1"/><circle cx="978.0" cy="699.0" r="7.1"/><circle cx="983.0" cy="702.0" r="7.1"/><circle cx="980.0" cy="710.0" r="7.1"/><circle cx="985.0" cy="715.0" r="7.1"/><circle cx="1005.0" cy="708.0" r="7.1"/><circle cx="1032.0" cy="712.0" r="7.1"/><circle cx="1036.0" cy="710.0" r="7.1"/><circle cx="1183.2" cy="711.4" r="7.1"/><circle cx="1197.6" cy="721.0" r="7.1"/><circle cx="386.5" cy="740.5" r="7.1"/><circle cx="880.0" cy="724.0" r="7.1"/><circle cx="868.5" cy="808.5" r="7.1"/><circle cx="863.0" cy="822.0" r="7.1"/><circle cx="860.0" cy="825.0" r="7.1"/><circle cx="842.0" cy="870.0" r="7.1"/><circle cx="989.0" cy="722.0" r="7.1"/><circle cx="1001.5" cy="750.0" r="7.1"/><circle cx="969.0" cy="826.5" r="7.1"/><circle cx="980.0" cy="834.0" r="7.1"/><circle cx="975.0" cy="841.0" r="7.1"/><circle cx="947.0" cy="862.0" r="7.1"/><circle cx="955.0" cy="861.0" r="7.1"/><circle cx="1112.5" cy="855.0" r="7.1"/><circle cx="1109.0" cy="860.0" r="7.1"/><circle cx="1102.0" cy="865.0" r="7.1"/><circle cx="1100.0" cy="869.0" r="7.1"/><circle cx="682.0" cy="960.0" r="7.1"/><circle cx="677.0" cy="968.0" r="7.1"/><circle cx="716.0" cy="957.0" r="7.1"/><circle cx="712.0" cy="966.0" r="7.1"/><circle cx="704.0" cy="973.0" r="7.1"/><circle cx="705.0" cy="980.0" r="7.1"/><circle cx="705.0" cy="987.0" r="7.1"/><circle cx="717.0" cy="988.0" r="7.1"/><circle cx="718.0" cy="995.0" r="7.1"/><circle cx="725.0" cy="1002.0" r="7.1"/><circle cx="724.0" cy="1006.0" r="7.1"/><circle cx="735.0" cy="1001.0" r="7.1"/><circle cx="748.0" cy="984.0" r="7.1"/><circle cx="815.0" cy="878.0" r="7.1"/><circle cx="843.5" cy="874.0" r="7.1"/><circle cx="884.0" cy="889.0" r="7.1"/><circle cx="891.0" cy="905.0" r="7.1"/><circle cx="913.0" cy="922.0" r="7.1"/><circle cx="917.5" cy="937.5" r="7.1"/><circle cx="931.0" cy="952.0" r="7.1"/><circle cx="896.0" cy="958.0" r="7.1"/><circle cx="875.0" cy="985.0" r="7.1"/><circle cx="886.0" cy="980.0" r="7.1"/><circle cx="898.0" cy="1006.0" r="7.1"/><circle cx="917.0" cy="1012.0" r="7.1"/><circle cx="822.0" cy="1016.0" r="7.1"/><circle cx="830.0" cy="1020.0" r="7.1"/><circle cx="978.0" cy="882.0" r="7.1"/><circle cx="1042.5" cy="883.5" r="7.1"/><circle cx="1065.0" cy="881.5" r="7.1"/><circle cx="1102.0" cy="876.0" r="7.1"/><circle cx="1103.0" cy="884.0" r="7.1"/><circle cx="966.0" cy="911.0" r="7.1"/><circle cx="990.0" cy="904.0" r="7.1"/><circle cx="987.0" cy="910.0" r="7.1"/><circle cx="1000.0" cy="919.0" r="7.1"/><circle cx="1012.0" cy="937.0" r="7.1"/><circle cx="1080.0" cy="924.0" r="7.1"/><circle cx="1079.5" cy="932.0" r="7.1"/><circle cx="1098.0" cy="924.0" r="7.1"/><circle cx="1093.0" cy="931.0" r="7.1"/><circle cx="1094.0" cy="941.0" r="7.1"/><circle cx="1105.0" cy="907.0" r="7.1"/><circle cx="1105.0" cy="913.0" r="7.1"/><circle cx="1007.5" cy="978.0" r="7.1"/><circle cx="1028.0" cy="969.0" r="7.1"/><circle cx="1038.0" cy="968.0" r="7.1"/><circle cx="1028.5" cy="979.0" r="7.1"/><circle cx="1062.0" cy="968.0" r="7.1"/><circle cx="1003.5" cy="1006.0" r="7.1"/><circle cx="1120.0" cy="875.0" r="7.1"/><circle cx="1111.0" cy="906.5" r="7.1"/><circle cx="808.5" cy="1035.5" r="7.1"/><circle cx="823.0" cy="1032.0" r="7.1"/><circle cx="830.0" cy="1025.0" r="7.1"/><circle cx="813.0" cy="1074.0" r="7.1"/><circle cx="839.0" cy="1076.5" r="7.1"/><circle cx="770.0" cy="1091.5" r="7.1"/><circle cx="785.0" cy="1095.0" r="7.1"/><circle cx="837.0" cy="1116.0" r="7.1"/><circle cx="920.5" cy="1024.0" r="7.1"/><circle cx="867.0" cy="1052.0" r="7.1"/><circle cx="918.5" cy="1059.0" r="7.1"/><circle cx="904.0" cy="1071.0" r="7.1"/><circle cx="914.0" cy="1068.0" r="7.1"/><circle cx="908.0" cy="1083.0" r="7.1"/><circle cx="988.0" cy="1058.0" r="7.1"/><circle cx="1008.0" cy="1038.0" r="7.1"/><circle cx="972.5" cy="1119.0" r="7.1"/><circle cx="994.0" cy="1126.0" r="7.1"/><circle cx="992.0" cy="1141.0" r="7.1"/><circle cx="992.0" cy="1153.0" r="7.1"/><circle cx="998.0" cy="1164.0" r="7.1"/><circle cx="891.0" cy="1134.0" r="7.1"/><circle cx="930.0" cy="1157.0" r="7.1"/><circle cx="936.0" cy="1161.0" r="7.1"/><circle cx="1026.0" cy="1039.0" r="7.1"/><circle cx="1038.5" cy="1043.0" r="7.1"/><circle cx="1017.0" cy="1046.0" r="7.1"/><circle cx="1025.0" cy="1052.0" r="7.1"/><circle cx="1036.0" cy="1059.0" r="7.1"/><circle cx="1043.5" cy="1062.0" r="7.1"/><circle cx="910.0" cy="1195.0" r="7.1"/><circle cx="915.0" cy="1191.5" r="7.1"/><circle cx="926.0" cy="1198.0" r="7.1"/><circle cx="537.5" cy="1186.7" r="7.1"/><circle cx="543.1" cy="1184.4" r="7.1"/><circle cx="553.3" cy="1185.5" r="7.1"/><circle cx="539.7" cy="1192.9" r="7.1"/><circle cx="552.8" cy="1204.8" r="7.1"/><circle cx="581.1" cy="1189.5" r="7.1"/><circle cx="588.5" cy="1198.0" r="7.1"/><circle cx="594.1" cy="1205.9" r="7.1"/><circle cx="569.2" cy="1213.3" r="7.1"/><circle cx="570.3" cy="1220.7" r="7.1"/><circle cx="580.5" cy="1215.0" r="7.1"/><circle cx="581.7" cy="1221.8" r="7.1"/><circle cx="573.7" cy="1224.1" r="7.1"/><circle cx="595.3" cy="1213.9" r="7.1"/><circle cx="605.5" cy="1211.6" r="7.1"/><circle cx="607.7" cy="1218.4" r="7.1"/><circle cx="602.1" cy="1216.1" r="7.1"/><circle cx="620.2" cy="1202.5" r="7.1"/><circle cx="619.1" cy="1209.3" r="7.1"/><circle cx="623.6" cy="1216.1" r="7.1"/><circle cx="630.4" cy="1217.3" r="7.1"/><circle cx="624.7" cy="1222.9" r="7.1"/><circle cx="629.3" cy="1225.2" r="7.1"/><circle cx="637.2" cy="1220.7" r="7.1"/><circle cx="645.1" cy="1224.1" r="7.1"/><circle cx="651.9" cy="1226.3" r="7.1"/><circle cx="658.7" cy="1229.7" r="7.1"/><circle cx="664.4" cy="1232.0" r="7.1"/><circle cx="665.5" cy="1226.3" r="7.1"/><circle cx="672.3" cy="1226.3" r="7.1"/><circle cx="676.9" cy="1224.1" r="7.1"/><circle cx="588.5" cy="1218.4" r="7.1"/><circle cx="588.5" cy="1213.3" r="7.1"/><circle cx="613.4" cy="1214.4" r="7.1"/><circle cx="614.0" cy="1220.1" r="7.1"/><circle cx="1022.0" cy="1044.0" r="7.1"/><circle cx="1032.0" cy="1048.0" r="7.1"/></g>
<g fill="#000000"><circle cx="628.5" cy="315.0" r="7.1"/><circle cx="633.5" cy="319.0" r="7.1"/><circle cx="684.0" cy="340.0" r="7.1"/><circle cx="703.0" cy="341.5" r="7.1"/><circle cx="710.0" cy="344.0" r="7.1"/><circle cx="671.0" cy="367.5" r="7.1"/><circle cx="671.5" cy="381.0" r="7.1"/><circle cx="531.0" cy="542.5" r="7.1"/><circle cx="526.5" cy="547.0" r="7.1"/><circle cx="558.5" cy="549.5" r="7.1"/><circle cx="671.0" cy="470.5" r="7.1"/><circle cx="648.5" cy="568.0" r="7.1"/><circle cx="799.0" cy="470.5" r="7.1"/><circle cx="802.5" cy="474.0" r="7.1"/><circle cx="816.5" cy="481.5" r="7.1"/><circle cx="826.0" cy="492.5" r="7.1"/><circle cx="831.0" cy="496.0" r="7.1"/><circle cx="827.0" cy="500.0" r="7.1"/><circle cx="833.0" cy="505.0" r="7.1"/><circle cx="835.0" cy="512.0" r="7.1"/><circle cx="842.0" cy="523.0" r="7.1"/><circle cx="847.0" cy="525.0" r="7.1"/><circle cx="859.5" cy="519.5" r="7.1"/><circle cx="850.0" cy="535.0" r="7.1"/><circle cx="857.0" cy="535.0" r="7.1"/><circle cx="858.5" cy="543.0" r="7.1"/><circle cx="866.0" cy="551.0" r="7.1"/><circle cx="865.0" cy="556.0" r="7.1"/><circle cx="862.5" cy="562.0" r="7.1"/><circle cx="884.0" cy="485.0" r="7.1"/><circle cx="887.0" cy="496.0" r="7.1"/><circle cx="890.0" cy="502.0" r="7.1"/><circle cx="793.0" cy="494.0" r="7.1"/><circle cx="790.0" cy="499.0" r="7.1"/><circle cx="799.5" cy="513.0" r="7.1"/><circle cx="781.5" cy="519.5" r="7.1"/><circle cx="810.0" cy="536.5" r="7.1"/><circle cx="806.0" cy="542.0" r="7.1"/><circle cx="821.0" cy="535.0" r="7.1"/><circle cx="827.0" cy="538.0" r="7.1"/><circle cx="832.0" cy="545.0" r="7.1"/><circle cx="810.0" cy="549.0" r="7.1"/><circle cx="805.0" cy="555.0" r="7.1"/><circle cx="812.0" cy="554.0" r="7.1"/><circle cx="803.0" cy="566.0" r="7.1"/><circle cx="774.5" cy="567.0" r="7.1"/><circle cx="783.0" cy="570.0" r="7.1"/><circle cx="912.5" cy="499.5" r="7.1"/><circle cx="891.5" cy="496.0" r="7.1"/><circle cx="903.0" cy="510.0" r="7.1"/><circle cx="910.0" cy="511.0" r="7.1"/><circle cx="899.0" cy="515.0" r="7.1"/><circle cx="909.0" cy="517.0" r="7.1"/><circle cx="899.5" cy="523.5" r="7.1"/><circle cx="604.0" cy="586.5" r="7.1"/><circle cx="636.0" cy="617.0" r="7.1"/><circle cx="665.5" cy="653.0" r="7.1"/><circle cx="771.0" cy="576.0" r="7.1"/><circle cx="803.0" cy="570.0" r="7.1"/><circle cx="786.0" cy="587.5" r="7.1"/><circle cx="730.5" cy="605.5" r="7.1"/><circle cx="747.5" cy="603.0" r="7.1"/><circle cx="756.5" cy="614.0" r="7.1"/><circle cx="751.0" cy="621.0" r="7.1"/><circle cx="757.0" cy="622.0" r="7.1"/><circle cx="777.5" cy="603.0" r="7.1"/><circle cx="776.0" cy="609.0" r="7.1"/><circle cx="777.0" cy="617.0" r="7.1"/><circle cx="790.5" cy="613.0" r="7.1"/><circle cx="785.0" cy="620.0" r="7.1"/><circle cx="809.5" cy="589.5" r="7.1"/><circle cx="814.5" cy="589.0" r="7.1"/><circle cx="823.0" cy="596.0" r="7.1"/><circle cx="828.0" cy="595.0" r="7.1"/><circle cx="830.0" cy="604.0" r="7.1"/><circle cx="835.0" cy="605.0" r="7.1"/><circle cx="814.5" cy="616.5" r="7.1"/><circle cx="810.0" cy="622.0" r="7.1"/><circle cx="805.0" cy="626.0" r="7.1"/><circle cx="824.0" cy="639.0" r="7.1"/><circle cx="821.0" cy="646.0" r="7.1"/><circle cx="880.0" cy="678.5" r="7.1"/><circle cx="905.5" cy="689.5" r="7.1"/><circle cx="892.5" cy="695.0" r="7.1"/><circle cx="854.0" cy="693.5" r="7.1"/><circle cx="861.0" cy="702.0" r="7.1"/><circle cx="885.0" cy="702.0" r="7.1"/><circle cx="864.0" cy="710.0" r="7.1"/><circle cx="857.0" cy="715.0" r="7.1"/><circle cx="883.0" cy="713.0" r="7.1"/><circle cx="870.0" cy="718.0" r="7.1"/><circle cx="966.0" cy="714.0" r="7.1"/><circle cx="1005.0" cy="682.0" r="7.1"/><circle cx="1205.4" cy="701.2" r="7.1"/><circle cx="680.0" cy="767.0" r="7.1"/><circle cx="723.5" cy="762.0" r="7.1"/><circle cx="729.0" cy="766.0" r="7.1"/><circle cx="730.5" cy="831.5" r="7.1"/><circle cx="740.0" cy="824.0" r="7.1"/><circle cx="735.0" cy="843.0" r="7.1"/><circle cx="728.0" cy="850.0" r="7.1"/><circle cx="735.0" cy="852.0" r="7.1"/><circle cx="724.5" cy="861.0" r="7.1"/><circle cx="735.0" cy="870.0" r="7.1"/><circle cx="745.5" cy="753.0" r="7.1"/><circle cx="831.0" cy="730.0" r="7.1"/><circle cx="841.0" cy="733.0" r="7.1"/><circle cx="833.0" cy="740.0" r="7.1"/><circle cx="840.0" cy="744.0" r="7.1"/><circle cx="821.0" cy="745.5" r="7.1"/><circle cx="857.5" cy="737.0" r="7.1"/><circle cx="853.0" cy="741.5" r="7.1"/><circle cx="857.0" cy="720.0" r="7.1"/><circle cx="880.5" cy="740.5" r="7.1"/><circle cx="788.0" cy="753.0" r="7.1"/><circle cx="777.0" cy="759.0" r="7.1"/><circle cx="772.0" cy="764.0" r="7.1"/><circle cx="775.0" cy="771.0" r="7.1"/><circle cx="766.0" cy="774.0" r="7.1"/><circle cx="758.5" cy="775.0" r="7.1"/><circle cx="790.0" cy="757.0" r="7.1"/><circle cx="801.0" cy="763.0" r="7.1"/><circle cx="812.0" cy="761.0" r="7.1"/><circle cx="800.0" cy="770.0" r="7.1"/><circle cx="793.5" cy="777.0" r="7.1"/><circle cx="791.5" cy="791.0" r="7.1"/><circle cx="769.0" cy="799.0" r="7.1"/><circle cx="768.0" cy="810.0" r="7.1"/><circle cx="776.0" cy="812.0" r="7.1"/><circle cx="779.0" cy="818.0" r="7.1"/><circle cx="786.0" cy="819.0" r="7.1"/><circle cx="798.5" cy="819.0" r="7.1"/><circle cx="797.0" cy="808.0" r="7.1"/><circle cx="801.0" cy="803.0" r="7.1"/><circle cx="809.0" cy="805.0" r="7.1"/><circle cx="818.5" cy="796.0" r="7.1"/><circle cx="827.0" cy="805.5" r="7.1"/><circle cx="846.5" cy="818.5" r="7.1"/><circle cx="834.5" cy="822.0" r="7.1"/><circle cx="830.0" cy="828.0" r="7.1"/><circle cx="822.0" cy="831.0" r="7.1"/><circle cx="838.5" cy="830.0" r="7.1"/><circle cx="826.0" cy="838.0" r="7.1"/><circle cx="838.5" cy="837.0" r="7.1"/><circle cx="808.5" cy="839.5" r="7.1"/><circle cx="848.0" cy="846.0" r="7.1"/><circle cx="850.0" cy="841.0" r="7.1"/><circle cx="861.0" cy="841.5" r="7.1"/><circle cx="886.0" cy="850.0" r="7.1"/><circle cx="858.0" cy="861.0" r="7.1"/><circle cx="849.5" cy="864.0" r="7.1"/><circle cx="815.0" cy="858.0" r="7.1"/><circle cx="822.0" cy="859.0" r="7.1"/><circle cx="828.0" cy="864.0" r="7.1"/><circle cx="834.0" cy="868.0" r="7.1"/><circle cx="824.0" cy="870.0" r="7.1"/><circle cx="742.0" cy="835.0" r="7.1"/><circle cx="747.0" cy="837.0" r="7.1"/><circle cx="745.0" cy="846.0" r="7.1"/><circle cx="755.0" cy="842.0" r="7.1"/><circle cx="759.0" cy="854.0" r="7.1"/><circle cx="763.0" cy="849.0" r="7.1"/><circle cx="770.0" cy="851.0" r="7.1"/><circle cx="776.0" cy="850.0" r="7.1"/><circle cx="770.0" cy="864.0" r="7.1"/><circle cx="743.0" cy="870.0" r="7.1"/><circle cx="970.0" cy="772.0" r="7.1"/><circle cx="977.5" cy="769.0" r="7.1"/><circle cx="992.0" cy="771.5" r="7.1"/><circle cx="977.5" cy="784.0" r="7.1"/><circle cx="990.0" cy="781.0" r="7.1"/><circle cx="993.0" cy="791.0" r="7.1"/><circle cx="932.5" cy="792.0" r="7.1"/><circle cx="950.0" cy="790.0" r="7.1"/><circle cx="947.0" cy="796.0" r="7.1"/><circle cx="953.5" cy="799.0" r="7.1"/><circle cx="971.0" cy="797.5" r="7.1"/><circle cx="975.5" cy="798.0" r="7.1"/><circle cx="960.5" cy="831.0" r="7.1"/><circle cx="977.0" cy="852.5" r="7.1"/><circle cx="890.0" cy="850.0" r="7.1"/><circle cx="898.0" cy="864.0" r="7.1"/><circle cx="974.5" cy="870.0" r="7.1"/><circle cx="1057.5" cy="736.5" r="7.1"/><circle cx="745.0" cy="883.0" r="7.1"/><circle cx="763.5" cy="885.0" r="7.1"/><circle cx="753.0" cy="894.0" r="7.1"/><circle cx="758.0" cy="897.0" r="7.1"/><circle cx="774.0" cy="897.0" r="7.1"/><circle cx="780.0" cy="903.0" r="7.1"/><circle cx="789.0" cy="903.0" r="7.1"/><circle cx="801.0" cy="912.0" r="7.1"/><circle cx="789.0" cy="914.0" r="7.1"/><circle cx="775.0" cy="922.5" r="7.1"/><circle cx="789.0" cy="924.0" r="7.1"/><circle cx="788.0" cy="930.0" r="7.1"/><circle cx="799.0" cy="884.0" r="7.1"/><circle cx="804.0" cy="887.0" r="7.1"/><circle cx="810.0" cy="877.0" r="7.1"/><circle cx="732.5" cy="949.0" r="7.1"/><circle cx="736.0" cy="958.0" r="7.1"/><circle cx="719.5" cy="963.0" r="7.1"/><circle cx="745.0" cy="965.0" r="7.1"/><circle cx="740.0" cy="972.0" r="7.1"/><circle cx="753.0" cy="972.0" r="7.1"/><circle cx="730.5" cy="980.5" r="7.1"/><circle cx="752.0" cy="980.0" r="7.1"/><circle cx="764.0" cy="980.0" r="7.1"/><circle cx="763.0" cy="985.0" r="7.1"/><circle cx="779.0" cy="972.0" r="7.1"/><circle cx="783.0" cy="978.0" r="7.1"/><circle cx="790.0" cy="954.0" r="7.1"/><circle cx="799.0" cy="959.0" r="7.1"/><circle cx="788.0" cy="961.0" r="7.1"/><circle cx="800.0" cy="968.0" r="7.1"/><circle cx="801.0" cy="978.0" r="7.1"/><circle cx="799.0" cy="988.0" r="7.1"/><circle cx="805.0" cy="990.0" r="7.1"/><circle cx="810.0" cy="995.0" r="7.1"/><circle cx="774.0" cy="988.0" r="7.1"/><circle cx="772.0" cy="995.0" r="7.1"/><circle cx="780.0" cy="999.0" r="7.1"/><circle cx="782.0" cy="1010.0" r="7.1"/><circle cx="786.0" cy="1018.0" r="7.1"/><circle cx="795.0" cy="1020.0" r="7.1"/><circle cx="747.0" cy="1003.0" r="7.1"/><circle cx="757.0" cy="1005.0" r="7.1"/><circle cx="735.5" cy="1014.0" r="7.1"/><circle cx="744.0" cy="1020.0" r="7.1"/><circle cx="834.5" cy="893.0" r="7.1"/><circle cx="844.0" cy="898.5" r="7.1"/><circle cx="901.0" cy="887.0" r="7.1"/><circle cx="896.0" cy="890.0" r="7.1"/><circle cx="893.0" cy="901.0" r="7.1"/><circle cx="912.0" cy="916.5" r="7.1"/><circle cx="883.5" cy="923.5" r="7.1"/><circle cx="890.0" cy="925.5" r="7.1"/><circle cx="876.5" cy="932.0" r="7.1"/><circle cx="889.5" cy="952.5" r="7.1"/><circle cx="926.5" cy="946.5" r="7.1"/><circle cx="948.5" cy="958.5" r="7.1"/><circle cx="878.5" cy="971.5" r="7.1"/><circle cx="893.0" cy="971.0" r="7.1"/><circle cx="883.0" cy="978.0" r="7.1"/><circle cx="874.0" cy="991.5" r="7.1"/><circle cx="814.5" cy="965.0" r="7.1"/><circle cx="820.0" cy="971.0" r="7.1"/><circle cx="825.0" cy="978.0" r="7.1"/><circle cx="831.0" cy="975.0" r="7.1"/><circle cx="843.5" cy="978.0" r="7.1"/><circle cx="857.5" cy="981.5" r="7.1"/><circle cx="814.0" cy="990.0" r="7.1"/><circle cx="816.0" cy="1017.0" r="7.1"/><circle cx="728.5" cy="1031.0" r="7.1"/><circle cx="744.5" cy="1024.0" r="7.1"/><circle cx="757.0" cy="1028.0" r="7.1"/><circle cx="767.0" cy="1028.0" r="7.1"/><circle cx="770.0" cy="1036.0" r="7.1"/><circle cx="758.0" cy="1037.0" r="7.1"/><circle cx="750.0" cy="1038.0" r="7.1"/><circle cx="741.0" cy="1044.0" r="7.1"/><circle cx="756.0" cy="1049.0" r="7.1"/><circle cx="770.0" cy="1050.0" r="7.1"/><circle cx="764.0" cy="1056.0" r="7.1"/><circle cx="762.0" cy="1062.0" r="7.1"/><circle cx="778.0" cy="1054.0" r="7.1"/><circle cx="786.5" cy="1054.0" r="7.1"/><circle cx="780.0" cy="1066.0" r="7.1"/><circle cx="789.0" cy="1063.0" r="7.1"/><circle cx="798.0" cy="1060.0" r="7.1"/><circle cx="796.0" cy="1067.0" r="7.1"/><circle cx="806.5" cy="1053.5" r="7.1"/><circle cx="816.0" cy="1063.0" r="7.1"/><circle cx="789.0" cy="1076.0" r="7.1"/><circle cx="789.0" cy="1084.0" r="7.1"/><circle cx="788.0" cy="1092.0" r="7.1"/><circle cx="796.0" cy="1097.0" r="7.1"/><circle cx="806.0" cy="1081.0" r="7.1"/><circle cx="818.0" cy="1081.0" r="7.1"/><circle cx="821.0" cy="1090.0" r="7.1"/><circle cx="843.0" cy="1053.5" r="7.1"/><circle cx="837.0" cy="1090.0" r="7.1"/><circle cx="844.0" cy="1088.0" r="7.1"/><circle cx="849.0" cy="1094.0" r="7.1"/><circle cx="857.0" cy="1092.0" r="7.1"/><circle cx="931.5" cy="1083.0" r="7.1"/><circle cx="871.0" cy="1113.5" r="7.1"/><circle cx="904.5" cy="1170.0" r="7.1"/></g>
<rect x="214.5" y="1112.5" width="106" height="199.5" fill="#fff" stroke="#262626" stroke-width="1" shape-rendering="crispEdges"/>
<circle cx="254.1" cy="1135.3" r="6.9" fill="#ff0000"/>
<text x="301.5" y="1146.1" text-anchor="middle" class="lg">0</text>
<circle cx="254.1" cy="1173.9" r="6.9" fill="#00ff00"/>
<text x="301.5" y="1184.7" text-anchor="middle" class="lg">1</text>
<circle cx="254.1" cy="1212.5" r="6.9" fill="#0000ff"/>
<text x="301.5" y="1223.3" text-anchor="middle" class="lg">2</text>
<circle cx="254.1" cy="1250.8" r="6.9" fill="#ff00ff"/>
<text x="301.5" y="1261.6" text-anchor="middle" class="lg">3</text>
<circle cx="254.1" cy="1289.4" r="6.9" fill="#000000"/>
<text x="301.5" y="1300.2" text-anchor="middle" class="lg">4</text>
<text x="217.2" y="1378.4" text-anchor="middle" class="tk">-40</text>
<text x="357.8" y="1378.4" text-anchor="middle" class="tk">-30</text>
<text x="498.4" y="1378.4" text-anchor="middle" class="tk">-20</text>
<text x="639.1" y="1378.4" text-anchor="middle" class="tk">-10</text>
<text x="780.6" y="1378.4" text-anchor="middle" class="tk">0</text>
<text x="921.2" y="1378.4" text-anchor="middle" class="tk">10</text>
<text x="1061.8" y="1378.4" text-anchor="middle" class="tk">20</text>
<text x="1202.5" y="1378.4" text-anchor="middle" class="tk">30</text>
<text x="1343.1" y="1378.4" text-anchor="middle" class="tk">40</text>
<text x="183.9" y="1347.2" text-anchor="end" class="tk">-60</text>
<text x="183.9" y="1143.4" text-anchor="end" class="tk">-40</text>
<text x="183.9" y="939.5" text-anchor="end" class="tk">-20</text>
<text x="183.9" y="735.7" text-anchor="end" class="tk">0</text>
<text x="183.9" y="531.9" text-anchor="end" class="tk">20</text>
<text x="183.9" y="328.0" text-anchor="end" class="tk">40</text>
<text x="183.9" y="124.2" text-anchor="end" class="tk">60</text>
<text x="494.0" y="92.6" class="tt" textLength="220" lengthAdjust="spacingAndGlyphs">fibroblasts</text>
<text x="739.0" y="92.6" class="tt" textLength="92" lengthAdjust="spacingAndGlyphs">fetal</text>
<text x="849.8" y="92.6" class="tt" textLength="83.5" lengthAdjust="spacingAndGlyphs">skin</text>
<text x="953.8" y="92.6" class="tt" textLength="107" lengthAdjust="spacingAndGlyphs">scalp</text>
<path d="M716 97h19v5h-19z M830 97h18.4v5h-18.4z M934.4 97h18v5h-18z" fill="#000"/>
</svg>
</body></html>
